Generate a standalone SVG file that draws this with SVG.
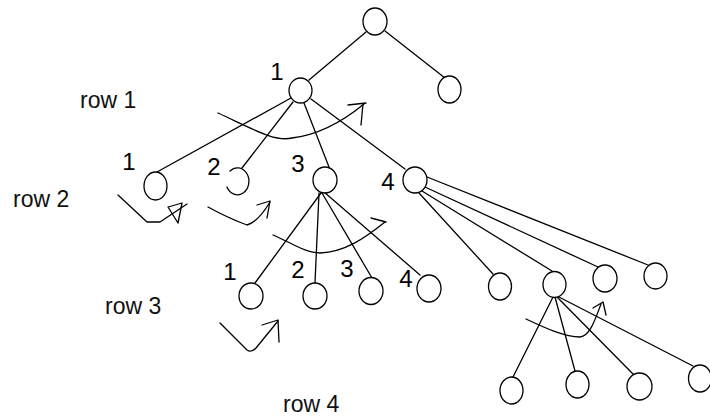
<svg xmlns="http://www.w3.org/2000/svg" width="710" height="418" viewBox="0 0 710 418">
  <style>
    .n { fill: #fff; stroke: #000; stroke-width: 1.3; }
    .e { fill: none; stroke: #000; stroke-width: 1.3; stroke-linecap: round; }
    .a { fill: none; stroke: #000; stroke-width: 1.3; stroke-linecap: round; stroke-linejoin: round; }
    .lbl { font-family: "Liberation Sans", Arial, sans-serif; font-size: 24px; fill: #000; text-anchor: middle; }
    .row { font-family: "Liberation Sans", Arial, sans-serif; font-size: 23px; fill: #111; }
  </style>
  <rect width="710" height="418" fill="#fff"/>

  <!-- tree edges -->
  <g id="connectors">
    <line class="e" x1="366" y1="32" x2="309" y2="80"/>
    <line class="e" x1="385" y1="31" x2="445" y2="78"/>
    <line class="e" x1="291" y1="98" x2="157" y2="172"/>
    <line class="e" x1="293" y1="102" x2="242" y2="168"/>
    <line class="e" x1="304" y1="103" x2="329" y2="167"/>
    <line class="e" x1="311" y1="99" x2="405" y2="169"/>
    <!-- children of node 3 -->
    <line class="e" x1="321" y1="193" x2="255" y2="283"/>
    <line class="e" x1="319" y1="193" x2="315" y2="283"/>
    <line class="e" x1="322" y1="193" x2="372" y2="278"/>
    <line class="e" x1="324" y1="192" x2="420" y2="275"/>
    <!-- children of node 4 -->
    <line class="e" x1="427" y1="177" x2="648" y2="265"/>
    <line class="e" x1="425" y1="187" x2="598" y2="267"/>
    <line class="e" x1="422" y1="191" x2="552" y2="271"/>
    <line class="e" x1="419" y1="193" x2="493" y2="274"/>
    <!-- children of the second row-3 node under 4 -->
    <line class="e" x1="553" y1="297" x2="513" y2="377"/>
    <line class="e" x1="555" y1="297" x2="575" y2="371"/>
    <line class="e" x1="557" y1="297" x2="633" y2="374"/>
    <line class="e" x1="557" y1="296" x2="693" y2="366"/>
  </g>

  <!-- sweep arrows -->
  <g id="arrows">
    <path class="a" d="M218,113 C255,130 275,142 292,138 C318,135 342,122 364,104"/>
    <path class="a" d="M348,105 L366,103 M363,104 L361,125"/>

    <path class="a" d="M118,195 L147,222 L160,222 L187,204"/>
    <path class="a" d="M168,207 L182,203 L178,223 Z"/>

    <path class="a" d="M208,207 Q228,218 247,225 Q258,222 270,202"/>
    <path class="a" d="M257,205 L270,201 L267,218"/>

    <path class="a" d="M273,235 C290,242 305,253 320,253 C345,252 365,238 385,222"/>
    <path class="a" d="M371,218 L386,222"/>

    <path class="a" d="M220,323 L247,350 Q251,353 256,348 L278,321"/>
    <path class="a" d="M262,325 L278,320 L279,342"/>

    <path class="a" d="M526,319 C545,328 565,337 580,337 C590,336 595,320 601,304"/>
    <path class="a" d="M593,308 L603,302 L606,315"/>
  </g>

  <!-- nodes -->
  <g id="root"><ellipse class="n" cx="375" cy="21.5" rx="12" ry="13.5"/></g>
  <g id="root-right"><ellipse class="n" cx="449.5" cy="89.5" rx="11.5" ry="13.5"/></g>
  <g id="r1-1"><ellipse class="n" cx="300.5" cy="90.5" rx="11.5" ry="12.5"/><text class="lbl" x="277" y="80">1</text></g>

  <g id="r2-1"><ellipse class="n" cx="155.5" cy="186" rx="11.5" ry="14"/><text class="lbl" x="129" y="170">1</text></g>
  <g id="r2-2"><path class="e" d="M230,171 A11.5 13.5 0 1 1 227,187"/><text class="lbl" x="214" y="175">2</text></g>
  <g id="r2-3"><ellipse class="n" cx="325" cy="180" rx="12" ry="13"/><text class="lbl" x="298" y="172">3</text></g>
  <g id="r2-4"><ellipse class="n" cx="415" cy="180" rx="12" ry="13"/><text class="lbl" x="388" y="190">4</text></g>

  <g id="r3-1"><ellipse class="n" cx="251" cy="296" rx="12" ry="13"/><text class="lbl" x="230" y="280">1</text></g>
  <g id="r3-2"><ellipse class="n" cx="315" cy="296" rx="12" ry="13"/><text class="lbl" x="298" y="278">2</text></g>
  <g id="r3-3"><ellipse class="n" cx="371" cy="291" rx="12" ry="13.5"/><text class="lbl" x="347" y="277">3</text></g>
  <g id="r3-4"><ellipse class="n" cx="429" cy="288.5" rx="12" ry="13.5"/><text class="lbl" x="406" y="287">4</text></g>

  <g id="r3-5"><ellipse class="n" cx="500" cy="286.5" rx="11.5" ry="13.5"/></g>
  <g id="r3-6"><ellipse class="n" cx="554.5" cy="284.5" rx="11.5" ry="13"/></g>
  <g id="r3-7"><ellipse class="n" cx="605" cy="278.5" rx="12" ry="13.5"/></g>
  <g id="r3-8"><ellipse class="n" cx="655.5" cy="276" rx="11.5" ry="13"/></g>

  <g id="r4-1"><ellipse class="n" cx="511.5" cy="390.5" rx="11.5" ry="13.5"/></g>
  <g id="r4-2"><ellipse class="n" cx="577.5" cy="384.5" rx="11.5" ry="13.5"/></g>
  <g id="r4-3"><ellipse class="n" cx="639.5" cy="386.5" rx="12.5" ry="13.5"/></g>
  <g id="r4-4"><ellipse class="n" cx="700" cy="378.5" rx="11.5" ry="13.5"/></g>

  <!-- row captions -->
  <text class="row" x="80" y="108">row 1</text>
  <text class="row" x="13" y="207">row 2</text>
  <text class="row" x="105" y="314">row 3</text>
  <text class="row" x="283" y="412">row 4</text>
</svg>
